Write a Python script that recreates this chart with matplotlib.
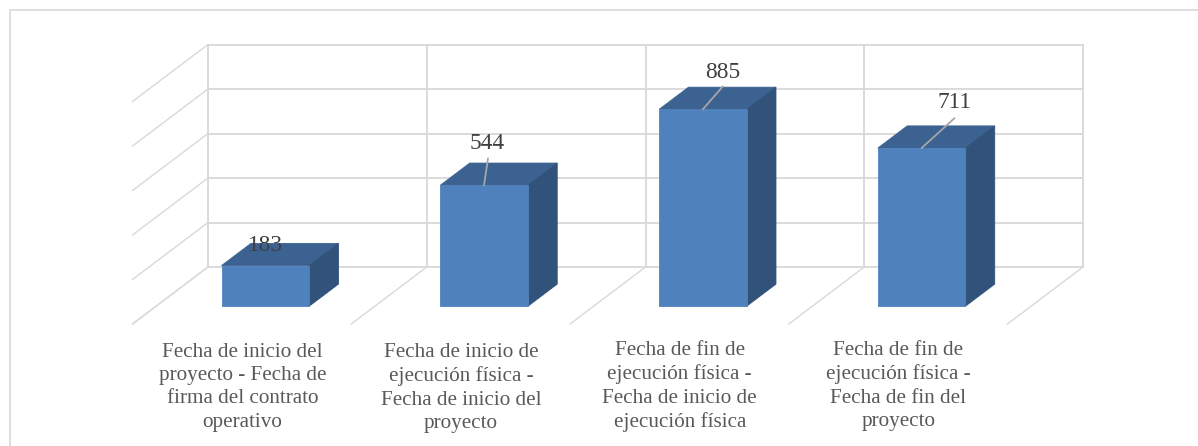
import matplotlib
matplotlib.use("Agg")
import matplotlib.pyplot as plt
from matplotlib.lines import Line2D
from matplotlib.patches import Polygon

categories = [
    "Fecha de inicio del\nproyecto - Fecha de\nfirma del contrato\noperativo",
    "Fecha de inicio de\nejecución física -\nFecha de inicio del\nproyecto",
    "Fecha de fin de\nejecución física -\nFecha de inicio de\nejecución física",
    "Fecha de fin de\nejecución física -\nFecha de fin del\nproyecto",
]
values = [183, 544, 885, 711]
y_ticks = [0, 200, 400, 600, 800, 1000]

W, H = 1198, 446
GRID = "#D9D9D9"
FRONT = "#4F81BD"
TOP = "#3B6290"
SIDE = "#325379"
TEXT = "#404040"
CAT_TEXT = "#595959"

# depth of the floor, in axis units (one category wide, 1000 tall)
DX = 75.5 / 218.75
DY = 57 / 0.2225

plt.rcParams["font.family"] = ["Liberation Serif", "DejaVu Serif"]

fig = plt.figure(figsize=(W / 100, H / 100), dpi=100)
ax = fig.add_axes([208 / W, (H - 267) / H, 875 / W, 222.5 / H])
ax.set_xlim(0, len(categories))
ax.set_ylim(0, 1000)
ax.axis("off")


def proj(u, v, d):
    return (u - d * DX, v - d * DY)


def face(pts, color, z):
    ax.add_patch(Polygon(pts, closed=True, facecolor=color, edgecolor=color,
                         linewidth=0.6, clip_on=False, zorder=z))


# outer frame of the chart, only top and left are visible
fig.add_artist(Line2D([10 / W, 10 / W, 1], [0, 1 - 9.5 / H, 1 - 9.5 / H], color=GRID,
                      lw=1.2, solid_joinstyle="miter", transform=fig.transFigure))

# back wall, left wall and floor
for t in y_ticks:
    ax.plot([0, len(categories)], [t, t], color=GRID, lw=1.35, clip_on=False, zorder=1)
    a, b = proj(0, t, 1)
    ax.plot([0, a], [t, b], color=GRID, lw=1.0, clip_on=False, zorder=1)
for i in range(len(categories) + 1):
    ax.plot([i, i], [0, 1000], color=GRID, lw=1.35, clip_on=False, zorder=1)
    a, b = proj(i, 0, 1)
    ax.plot([i, a], [0, b], color=GRID, lw=1.0, clip_on=False, zorder=1)

# bars
d0, d1 = 0.3, 0.69
for i, v in enumerate(values):
    u0, u1 = i + 0.3, i + 0.7
    z = 3 + i
    face([proj(u0, v, d1), proj(u1, v, d1), proj(u1, v, d0), proj(u0, v, d0)], TOP, z)
    face([proj(u1, 0, d1), proj(u1, v, d1), proj(u1, v, d0), proj(u1, 0, d0)], SIDE, z)
    face([proj(u0, 0, d1), proj(u1, 0, d1), proj(u1, v, d1), proj(u0, v, d1)], FRONT, z)

# value labels, placed relative to the top of each bar (pixels)
label_offsets = [(0, 10), (3, 31), (20, 26), (33, 35)]
leader_ends = [None, (4, 27), (20, 23), (33, 30)]
for i, v in enumerate(values):
    cx, cy = proj(i + 0.5, v, d1)
    ox, oy = label_offsets[i]
    ax.annotate(str(v), (cx, cy), xytext=(ox * 0.72, oy * 0.72),
                textcoords="offset points", ha="center", va="bottom",
                fontsize=16.8, color=TEXT, zorder=20, annotation_clip=False)
    if leader_ends[i] is not None:
        ex, ey = leader_ends[i]
        ax.annotate("", (cx, cy), xytext=(ex * 0.72, ey * 0.72),
                    textcoords="offset points", zorder=15, annotation_clip=False,
                    arrowprops=dict(arrowstyle="-", color="#A6A6A6", lw=1.3,
                                    shrinkA=0, shrinkB=0))

# category labels sit left of their bars
cat_tops = [342, 342, 340, 340]
for i, c in enumerate(categories):
    cx, _ = proj(i + 0.5, 0, d1)
    ax.annotate(c, (cx, 0), xytext=(-23 * 0.72, -(cat_tops[i] + 1 - 267) * 0.72),
                textcoords="offset points", ha="center", va="top",
                fontsize=15.25, color=CAT_TEXT, linespacing=1.3, annotation_clip=False)

fig.savefig("out.png", dpi=100)
